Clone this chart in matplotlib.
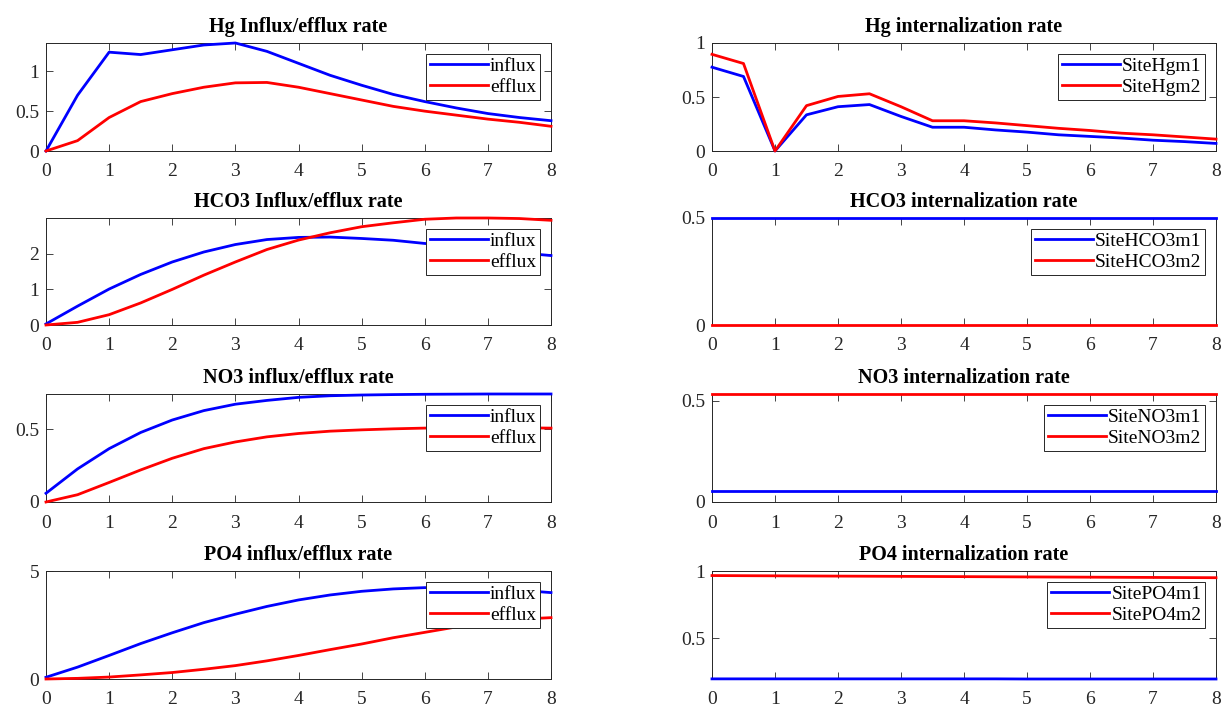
import matplotlib
matplotlib.use("Agg")
import matplotlib.pyplot as plt
from matplotlib.ticker import FuncFormatter

plt.rcParams['font.family'] = ['Liberation Serif', 'DejaVu Serif']

t = [0, 0.5, 1, 1.5, 2, 2.5, 3, 3.5, 4, 4.5, 5, 5.5, 6, 6.5, 7, 7.5, 8]

hg_influx = [0, 0.70, 1.24, 1.21, 1.27, 1.33, 1.355, 1.25, 1.10, 0.95, 0.825, 0.71, 0.62, 0.54, 0.47, 0.42, 0.38]
hg_efflux = [0, 0.13, 0.42, 0.62, 0.72, 0.80, 0.855, 0.86, 0.80, 0.72, 0.64, 0.56, 0.50, 0.45, 0.40, 0.36, 0.31]
hg_m1 = [0.776, 0.69, 0, 0.335, 0.41, 0.43, 0.32, 0.22, 0.22, 0.195, 0.175, 0.15, 0.135, 0.12, 0.10, 0.087, 0.07]
hg_m2 = [0.895, 0.81, 0, 0.42, 0.505, 0.53, 0.41, 0.28, 0.28, 0.26, 0.235, 0.21, 0.19, 0.165, 0.15, 0.13, 0.11]

hco3_influx = [0.03, 0.53, 1.01, 1.42, 1.77, 2.05, 2.26, 2.40, 2.46, 2.47, 2.43, 2.38, 2.29, 2.22, 2.12, 2.03, 1.95]
hco3_efflux = [0, 0.075, 0.29, 0.62, 1.0, 1.40, 1.77, 2.12, 2.385, 2.59, 2.76, 2.87, 2.97, 3.005, 3.005, 2.99, 2.94]
hco3_m1 = [0.5] * 17
hco3_m2 = [0.0] * 17

no3_influx = [0.06, 0.227, 0.366, 0.477, 0.5625, 0.627, 0.671, 0.697, 0.718, 0.729, 0.734, 0.737, 0.739, 0.740, 0.741, 0.741, 0.741]
no3_efflux = [0, 0.05, 0.134, 0.22, 0.30, 0.366, 0.412, 0.447, 0.47, 0.486, 0.495, 0.502, 0.507, 0.509, 0.509, 0.509, 0.507]
no3_m1 = [0.055] * 17
no3_m2 = [0.533] * 17

po4_influx = [0.08, 0.55, 1.09, 1.64, 2.14, 2.61, 3.0, 3.36, 3.66, 3.89, 4.06, 4.17, 4.23, 4.23, 4.19, 4.11, 4.0]
po4_efflux = [0, 0.03, 0.09, 0.19, 0.30, 0.45, 0.62, 0.84, 1.09, 1.36, 1.62, 1.91, 2.16, 2.41, 2.61, 2.77, 2.84]
po4_m1 = [0.196, 0.196, 0.196, 0.196, 0.196, 0.196, 0.196, 0.196, 0.196, 0.196, 0.195, 0.195, 0.195, 0.195, 0.195, 0.195, 0.195]
po4_m2 = [0.966, 0.965, 0.964, 0.963, 0.962, 0.961, 0.960, 0.959, 0.958, 0.957, 0.956, 0.955, 0.954, 0.953, 0.952, 0.951, 0.950]

left_titles = ['Hg Influx/efflux rate', 'HCO3 Influx/efflux rate', 'NO3 influx/efflux rate', 'PO4 influx/efflux rate']
right_titles = ['Hg internalization rate', 'HCO3 internalization rate', 'NO3 internalization rate', 'PO4 internalization rate']
left_data = [(hg_influx, hg_efflux), (hco3_influx, hco3_efflux), (no3_influx, no3_efflux), (po4_influx, po4_efflux)]
right_data = [(hg_m1, hg_m2), (hco3_m1, hco3_m2), (no3_m1, no3_m2), (po4_m1, po4_m2)]
left_labels = ['influx', 'efflux']
right_labels = [('SiteHgm1', 'SiteHgm2'), ('SiteHCO3m1', 'SiteHCO3m2'),
                ('SiteNO3m1', 'SiteNO3m2'), ('SitePO4m1', 'SitePO4m2')]
left_ylims = [(0, 1.355), (0, 3.005), (0, 0.741), (0, 5)]
right_ylims = [(0, 1), (0, 0.5), (0, 0.533), (0.195, 1)]
left_yticks = [[0, 0.5, 1], [0, 1, 2], [0, 0.5], [0, 5]]
right_yticks = [[0, 0.5, 1], [0, 0.5], [0, 0.5], [0.5, 1]]
xticks = [0, 1, 2, 3, 4, 5, 6, 7, 8]

W, H = 1225, 708
fig = plt.figure(figsize=(W / 100, H / 100), dpi=100)

rows_px = [(43, 151), (218, 325), (394, 502), (571, 679)]
cols_px = [(46, 551), (712, 1216)]

axcol = '#262626'
fmt = FuncFormatter(lambda v, p: '%g' % v)


def style(ax, ylim, yticks, title):
    ax.set_xlim(0, 8)
    ax.set_ylim(*ylim)
    ax.set_xticks(xticks)
    ax.set_yticks(yticks)
    ax.yaxis.set_major_formatter(fmt)
    ax.tick_params(direction='in', length=5, width=0.6, top=True, right=True,
                   labelsize=14, colors=axcol)
    ax.tick_params(axis='x', pad=9)
    ax.tick_params(axis='y', pad=5)
    for s in ax.spines.values():
        s.set_color(axcol)
        s.set_linewidth(0.7)
    ax.set_title(title, fontsize=14.5, fontweight='bold', pad=8, color='black')


for i in range(4):
    top, bot = rows_px[i]
    for j in range(2):
        x0, x1 = cols_px[j]
        ax = fig.add_axes([x0 / W, 1 - bot / H, (x1 - x0) / W, (bot - top) / H])
        if j == 0:
            a, b = left_data[i]
            la, lb = left_labels
            style(ax, left_ylims[i], left_yticks[i], left_titles[i])
        else:
            a, b = right_data[i]
            la, lb = right_labels[i]
            style(ax, right_ylims[i], right_yticks[i], right_titles[i])
        ax.plot(t, a, color='#0000ff', lw=2.0, label=la, clip_on=False, zorder=3)
        ax.plot(t, b, color='#ff0000', lw=2.0, label=lb, clip_on=False, zorder=3)
        leg = ax.legend(loc='upper right', fontsize=14, frameon=True, fancybox=False,
                        edgecolor=axcol, framealpha=1, borderpad=0.2, labelspacing=0.15,
                        handlelength=3.0, handletextpad=0.1, borderaxespad=0.55)
        leg.get_frame().set_linewidth(0.7)
        leg.set_zorder(5)

fig.savefig('out.png', dpi=100)
